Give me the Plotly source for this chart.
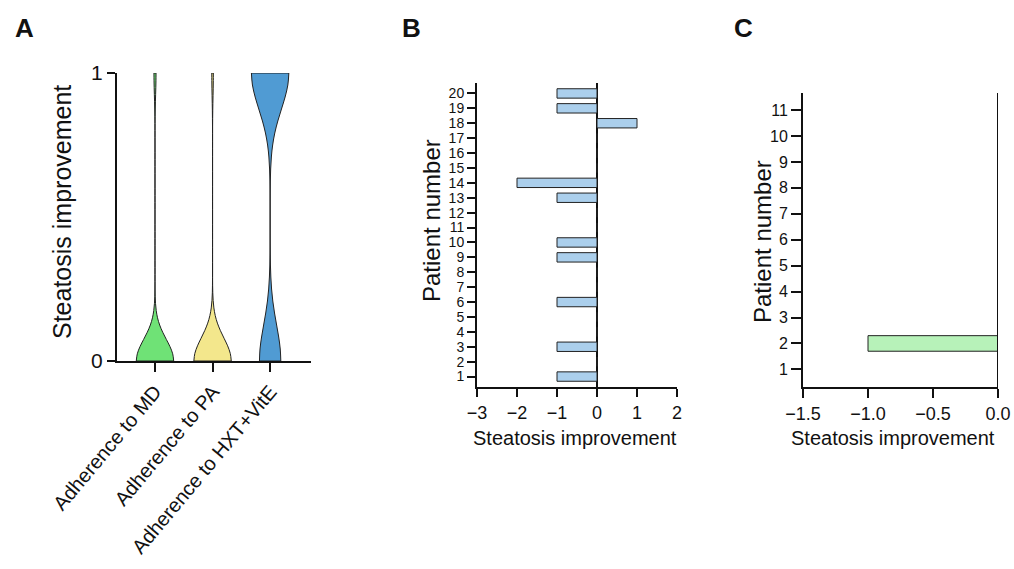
import plotly.graph_objects as go

W, H = 1014, 569

# ---------------- data ----------------
# Panel A: binary steatosis improvement per group (0 = no, 1 = yes)
groups = ["Adherence to MD", "Adherence to PA", "Adherence to HXT+VitE"]
md_vals = [0, 0, 0, 0, 0, 0, 0, 0, 0, 0, 0, 0, 0, 0, 0, 0, 0, 0, 1]
pa_vals = [0, 0, 0, 0, 0, 0, 0, 0, 0, 0, 0, 0, 0, 0, 0, 0, 0, 0, 0, 0, 0, 0, 0, 0, 1]
hxt_vals = [0, 0, 0, 0, 1, 1, 1, 1, 1, 1, 1]
group_vals = [md_vals, pa_vals, hxt_vals]
group_colors = ["#6fe276", "#f3e78c", "#509bd3"]
group_bw = [0.075, 0.08, 0.125]

# Panel B: steatosis improvement per patient
patients_b = list(range(1, 21))
improve_b = [-1, 0, -1, 0, 0, -1, 0, 0, -1, -1, 0, 0, -1, -2, 0, 0, 0, 1, -1, -1]

# Panel C: steatosis improvement per patient
patients_c = list(range(1, 12))
improve_c = [0, -1, 0, 0, 0, 0, 0, 0, 0, 0, 0]

FONT = "Arial, Liberation Sans, sans-serif"
TXT = "#111111"


def px(x):
    return x / W


def py(y):
    return 1 - y / H


def px_x(a, b):
    return [px(a), px(b)]


def px_y(top, bottom):
    return [py(bottom), py(top)]


fig = go.Figure()

# ---------------- Panel A: violins ----------------
for g, vals, col, bw in zip(groups, group_vals, group_colors, group_bw):
    fig.add_trace(go.Violin(
        x=[g] * len(vals), y=vals, name=g,
        xaxis="x", yaxis="y",
        fillcolor=col, line=dict(color="#222222", width=1),
        opacity=1, points=False, box_visible=False, meanline_visible=False,
        spanmode="hard", bandwidth=bw, width=0.65, scalemode="width",
        showlegend=False, hoverinfo="skip",
    ))

# ---------------- Panel B: bars ----------------
fig.add_trace(go.Bar(
    x=improve_b, y=patients_b, orientation="h", xaxis="x2", yaxis="y2",
    width=0.63, marker=dict(color="#abcfec", line=dict(color="#222222", width=1)),
    showlegend=False,
))

# ---------------- Panel C: bars ----------------
fig.add_trace(go.Bar(
    x=improve_c, y=patients_c, orientation="h", xaxis="x3", yaxis="y3",
    width=0.6, marker=dict(color="#b7f2b9", line=dict(color="#222222", width=1)),
    showlegend=False,
))

axis_common = dict(
    showline=True, linecolor="#111111", linewidth=2, showgrid=False,
    ticks="outside", tickcolor="#111111", tickwidth=2, automargin=False,
)


def tf(size):
    return dict(family=FONT, color=TXT, size=size)


fig.update_layout(
    width=W, height=H,
    margin=dict(l=0, r=0, t=0, b=0, autoexpand=False),
    paper_bgcolor="white", plot_bgcolor="white",
    violinmode="overlay", barmode="overlay",
    font=dict(family=FONT, color=TXT),
    xaxis=dict(domain=px_x(117, 311), anchor="y", type="category",
               categoryorder="array", categoryarray=groups,
               range=[-0.66, 2.71], zeroline=False, ticklen=9,
               tickangle=-50, tickfont=tf(20), **axis_common),
    yaxis=dict(domain=px_y(73, 361), anchor="x", range=[0, 1],
               tickvals=[0, 1], ticktext=["0", "1"], zeroline=False, ticklen=8,
               tickfont=tf(21), **axis_common),
    xaxis2=dict(domain=px_x(477, 677), anchor="y2", range=[-3, 2],
                tickvals=[-3, -2, -1, 0, 1, 2], ticklen=8,
                zeroline=True, zerolinecolor="#111111", zerolinewidth=2,
                tickfont=tf(18), **axis_common),
    yaxis2=dict(domain=px_y(83, 387), anchor="x2", range=[0.3, 20.7],
                tickvals=patients_b, ticklen=8, zeroline=False,
                tickfont=tf(14), **axis_common),
    xaxis3=dict(domain=px_x(803, 998), anchor="y3", range=[-1.5, 0],
                tickvals=[-1.5, -1.0, -0.5, 0.0], tickformat=".1f", ticklen=9,
                zeroline=False, tickfont=tf(18), **axis_common),
    yaxis3=dict(domain=px_y(93, 387), anchor="x3", range=[0.32, 11.66],
                tickvals=patients_c, ticklen=10, zeroline=False,
                tickfont=tf(16), **axis_common),
)

# zero reference line of panel C (right edge of the plot)
fig.add_shape(type="line", xref="x3", yref="y3 domain", x0=0, x1=0, y0=0, y1=1,
              line=dict(color="#111111", width=2), layer="above")

annotations = [
    # panel letters
    dict(text="<b>A</b>", x=px(24), y=py(28), font=dict(size=26)),
    dict(text="<b>B</b>", x=px(411), y=py(28), font=dict(size=26)),
    dict(text="<b>C</b>", x=px(743), y=py(28), font=dict(size=26)),
    # axis titles
    dict(text="Steatosis improvement", x=px(62), y=py(212), textangle=-90,
         font=dict(size=25)),
    dict(text="Patient number", x=px(432), y=py(221), textangle=-90,
         font=dict(size=24)),
    dict(text="Patient number", x=px(762), y=py(242), textangle=-90,
         font=dict(size=24)),
    dict(text="Steatosis improvement", x=px(574.5), y=py(438),
         font=dict(size=20)),
    dict(text="Steatosis improvement", x=px(892.5), y=py(438),
         font=dict(size=20)),
]
for a in annotations:
    a.update(xref="paper", yref="paper", showarrow=False,
             xanchor="center", yanchor="middle")
    a["font"].update(family=FONT, color=TXT)
fig.update_layout(annotations=annotations)

fig.write_html(
    "out.html",
    config={"displayModeBar": False},
    post_script="document.body.style.margin='0px';document.body.style.overflow='hidden';",
)
